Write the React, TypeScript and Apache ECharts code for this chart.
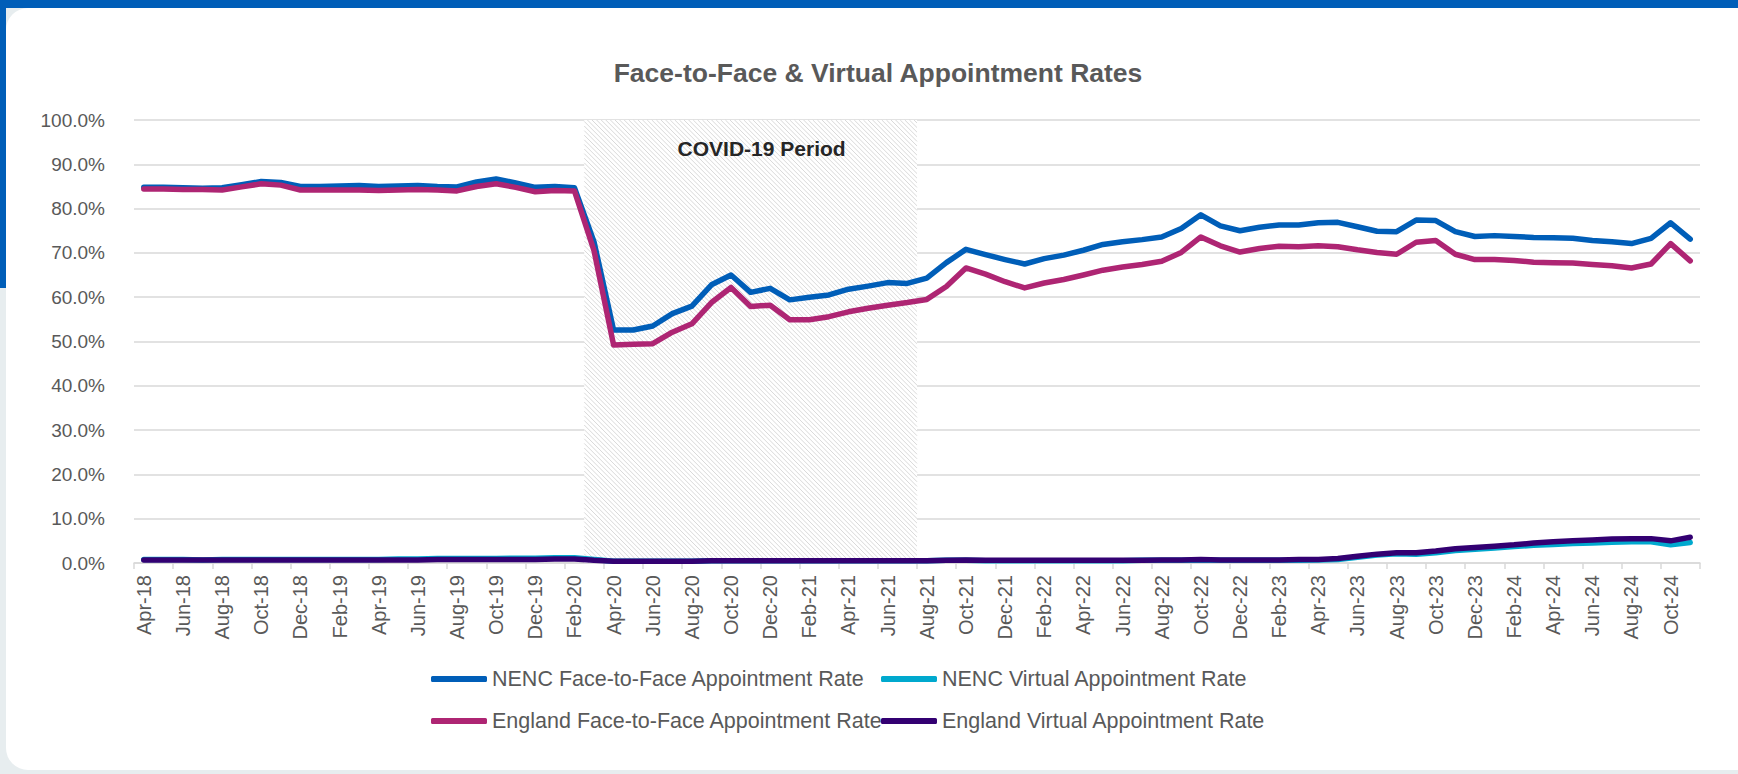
import React, { useEffect, useRef } from 'react';
import * as echarts from 'echarts';

const FONT = '"Liberation Sans", Arial, sans-serif';

const TITLE = 'Face-to-Face & Virtual Appointment Rates';
const COVID_LABEL = 'COVID-19 Period';

const categories = [
  'Apr-18', 'May-18', 'Jun-18', 'Jul-18', 'Aug-18', 'Sep-18', 'Oct-18', 'Nov-18', 'Dec-18',
  'Jan-19', 'Feb-19', 'Mar-19', 'Apr-19', 'May-19', 'Jun-19', 'Jul-19', 'Aug-19', 'Sep-19', 'Oct-19', 'Nov-19', 'Dec-19',
  'Jan-20', 'Feb-20', 'Mar-20', 'Apr-20', 'May-20', 'Jun-20', 'Jul-20', 'Aug-20', 'Sep-20', 'Oct-20', 'Nov-20', 'Dec-20',
  'Jan-21', 'Feb-21', 'Mar-21', 'Apr-21', 'May-21', 'Jun-21', 'Jul-21', 'Aug-21', 'Sep-21', 'Oct-21', 'Nov-21', 'Dec-21',
  'Jan-22', 'Feb-22', 'Mar-22', 'Apr-22', 'May-22', 'Jun-22', 'Jul-22', 'Aug-22', 'Sep-22', 'Oct-22', 'Nov-22', 'Dec-22',
  'Jan-23', 'Feb-23', 'Mar-23', 'Apr-23', 'May-23', 'Jun-23', 'Jul-23', 'Aug-23', 'Sep-23', 'Oct-23', 'Nov-23', 'Dec-23',
  'Jan-24', 'Feb-24', 'Mar-24', 'Apr-24', 'May-24', 'Jun-24', 'Jul-24', 'Aug-24', 'Sep-24', 'Oct-24', 'Nov-24',
];

// first and last month of the shaded COVID-19 period
const covidPeriod = ['Mar-20', 'Jul-21'];

const seriesNames = [
  'NENC Face-to-Face Appointment Rate',
  'NENC Virtual Appointment Rate',
  'England Face-to-Face Appointment Rate',
  'England Virtual Appointment Rate',
];
const seriesColors = ['#005EB8', '#00A9CE', '#AE2573', '#330072'];

const nencFaceToFace = [
  84.8, 84.8, 84.7, 84.6, 84.7, 85.4, 86.1, 85.9, 85.0,
  85.0, 85.1, 85.2, 85.0, 85.1, 85.2, 85.0, 84.9, 86.0, 86.7, 85.8, 84.8,
  85.0, 84.7, 72.5, 52.6, 52.6, 53.5, 56.3, 58.0, 62.8, 65.0, 61.1, 62.0,
  59.4, 60.0, 60.5, 61.8, 62.5, 63.3, 63.1, 64.3, 67.8, 70.8, 69.6, 68.5,
  67.5, 68.7, 69.5, 70.6, 71.9, 72.5, 73.0, 73.6, 75.5, 78.6, 76.1, 75.0,
  75.8, 76.3, 76.3, 76.8, 76.9, 75.9, 74.9, 74.8, 77.4, 77.3, 74.8, 73.7,
  73.9, 73.7, 73.5, 73.4, 73.3, 72.8, 72.5, 72.1, 73.3, 76.8, 73.1,
];

const nencVirtual = [
  0.8, 0.8, 0.8, 0.7, 0.8, 0.8, 0.8, 0.8, 0.8,
  0.8, 0.8, 0.8, 0.8, 0.9, 0.9, 1.0, 1.0, 1.0, 1.0, 1.1, 1.1,
  1.2, 1.2, 0.8, 0.4, 0.4, 0.4, 0.4, 0.4, 0.5, 0.5, 0.5, 0.5,
  0.5, 0.5, 0.5, 0.5, 0.5, 0.5, 0.5, 0.5, 0.6, 0.6, 0.5, 0.5,
  0.5, 0.5, 0.5, 0.5, 0.5, 0.5, 0.6, 0.6, 0.6, 0.7, 0.6, 0.6,
  0.6, 0.6, 0.6, 0.7, 0.8, 1.3, 1.8, 2.1, 2.0, 2.3, 2.8, 3.1,
  3.4, 3.7, 4.0, 4.2, 4.4, 4.5, 4.7, 4.8, 4.8, 4.1, 4.6,
];

const englandFaceToFace = [
  84.4, 84.4, 84.3, 84.3, 84.2, 84.9, 85.6, 85.3, 84.2,
  84.2, 84.2, 84.2, 84.1, 84.2, 84.3, 84.2, 84.0, 85.0, 85.6, 84.8, 83.8,
  84.1, 84.0, 70.5, 49.2, 49.4, 49.5, 52.1, 54.0, 58.8, 62.2, 57.9, 58.2,
  54.9, 54.9, 55.6, 56.7, 57.5, 58.2, 58.8, 59.5, 62.4, 66.6, 65.2, 63.5,
  62.1, 63.2, 64.0, 65.0, 66.1, 66.8, 67.4, 68.1, 70.1, 73.6, 71.6, 70.2,
  71.0, 71.5, 71.4, 71.6, 71.4, 70.7, 70.1, 69.7, 72.4, 72.8, 69.7, 68.5,
  68.5, 68.3, 67.9, 67.8, 67.7, 67.4, 67.1, 66.6, 67.5, 72.1, 68.2,
];

const englandVirtual = [
  0.7, 0.7, 0.7, 0.7, 0.7, 0.7, 0.7, 0.7, 0.7,
  0.7, 0.7, 0.7, 0.7, 0.7, 0.7, 0.8, 0.8, 0.8, 0.8, 0.8, 0.8,
  0.9, 0.9, 0.6, 0.4, 0.4, 0.4, 0.4, 0.4, 0.5, 0.5, 0.5, 0.5,
  0.5, 0.5, 0.5, 0.5, 0.5, 0.5, 0.5, 0.5, 0.6, 0.7, 0.6, 0.6,
  0.6, 0.6, 0.6, 0.6, 0.6, 0.6, 0.6, 0.7, 0.7, 0.8, 0.7, 0.7,
  0.7, 0.7, 0.8, 0.8, 1.0, 1.5, 2.0, 2.3, 2.3, 2.7, 3.2, 3.5,
  3.8, 4.1, 4.5, 4.8, 5.0, 5.2, 5.4, 5.5, 5.5, 5.0, 5.8,
];

const seriesValues = [nencFaceToFace, nencVirtual, englandFaceToFace, englandVirtual];

const yTicks = { min: 0, max: 100, interval: 10 };

function buildOption() {
  const covidStart = categories.indexOf(covidPeriod[0]);
  const covidEnd = categories.indexOf(covidPeriod[1]) + 1;

  const hatchSeries = {
    type: 'custom',
    xAxisIndex: 1,
    yAxisIndex: 0,
    silent: true,
    clip: false,
    z: 1,
    data: [[covidStart, covidEnd]],
    renderItem: (params: any, api: any) => {
      const tl = api.coord([api.value(0), yTicks.max]);
      const br = api.coord([api.value(1), yTicks.min]);
      const x0 = tl[0];
      const y0 = tl[1];
      const x1 = br[0];
      const y1 = br[1];
      const children: any[] = [
        { type: 'rect', shape: { x: x0, y: y0, width: x1 - x0, height: y1 - y0 }, style: { fill: '#ffffff' } },
      ];
      const step = 4.6;
      for (let c = x0 - y1; c <= x1 - y0; c += step) {
        const ys = Math.max(y0, x0 - c);
        const ye = Math.min(y1, x1 - c);
        if (ye > ys) {
          children.push({
            type: 'line',
            shape: { x1: ys + c, y1: ys, x2: ye + c, y2: ye },
            style: { stroke: '#d5d5d5', lineWidth: 0.9 },
          });
        }
      }
      children.push({
        type: 'text',
        x: (x0 + x1) / 2 + 11,
        y: y0 + 28,
        style: {
          text: COVID_LABEL,
          fill: '#262626',
          font: `bold 21px ${FONT}`,
          align: 'center',
          verticalAlign: 'middle',
        },
      });
      return { type: 'group', children };
    },
  };

  const lineSeries = seriesNames.map((name, i) => ({
    name,
    type: 'line',
    data: seriesValues[i],
    xAxisIndex: 0,
    yAxisIndex: 0,
    symbol: 'none',
    color: seriesColors[i],
    z: 3 + i,
    lineStyle: { color: seriesColors[i], width: 5.5, cap: 'round', join: 'round' },
  }));

  const legendCommon = {
    orient: 'vertical',
    top: 662,
    icon: 'roundRect',
    itemWidth: 56,
    itemHeight: 6,
    itemGap: 18,
    textStyle: { fontSize: 21.5, color: '#595959', lineHeight: 24, fontFamily: FONT },
  };

  return {
    animation: false,
    textStyle: { fontFamily: FONT },
    title: {
      text: TITLE,
      left: 873,
      top: 54,
      textAlign: 'center',
      textStyle: { fontSize: 26.5, fontWeight: 'bold', color: '#595959', fontFamily: FONT },
    },
    grid: { left: 134, right: 38, top: 120, bottom: 211, containLabel: false },
    legend: [
      { ...legendCommon, left: 426, data: [seriesNames[0], seriesNames[2]] },
      { ...legendCommon, left: 876, data: [seriesNames[1], seriesNames[3]] },
    ],
    xAxis: [
      {
        type: 'category',
        data: categories,
        boundaryGap: true,
        axisLine: { lineStyle: { color: '#d9d9d9', width: 1.5 } },
        axisTick: { show: true, interval: 1, length: 6, lineStyle: { color: '#d9d9d9', width: 1.5 } },
        axisLabel: { interval: 1, rotate: 90, fontSize: 20, color: '#595959', margin: 12, fontFamily: FONT },
        splitLine: { show: false },
      },
      { type: 'value', min: 0, max: categories.length, show: false },
    ],
    yAxis: {
      type: 'value',
      min: yTicks.min,
      max: yTicks.max,
      interval: yTicks.interval,
      axisLine: { show: false },
      axisTick: { show: false },
      axisLabel: {
        formatter: (v: number) => `${v.toFixed(1)}%`,
        fontSize: 19,
        color: '#595959',
        margin: 29,
        fontFamily: FONT,
      },
      splitLine: { lineStyle: { color: '#d9d9d9', width: 1.5 } },
    },
    series: [hatchSeries, ...lineSeries],
  };
}

export default function App() {
  const ref = useRef<HTMLDivElement>(null);
  useEffect(() => {
    document.body.style.margin = '0';
    const chart = echarts.init(ref.current as HTMLDivElement, null, { renderer: 'svg' });
    chart.setOption(buildOption() as any);
    return () => chart.dispose();
  }, []);
  return (
    <div style={{ position: 'relative', width: 1738, height: 774, background: '#e7edef', overflow: 'hidden' }}>
      <div style={{ position: 'absolute', left: 0, top: 0, width: 1738, height: 8, background: '#005EB8' }} />
      <div style={{ position: 'absolute', left: 0, top: 0, width: 6, height: 288, background: '#005EB8' }} />
      <div
        style={{
          position: 'absolute',
          left: 6,
          top: 8,
          right: 0,
          bottom: 4,
          background: '#ffffff',
          borderRadius: '22px 0 0 22px',
        }}
      />
      <div ref={ref} style={{ position: 'absolute', left: 0, top: 0, width: 1738, height: 774 }} />
    </div>
  );
}
